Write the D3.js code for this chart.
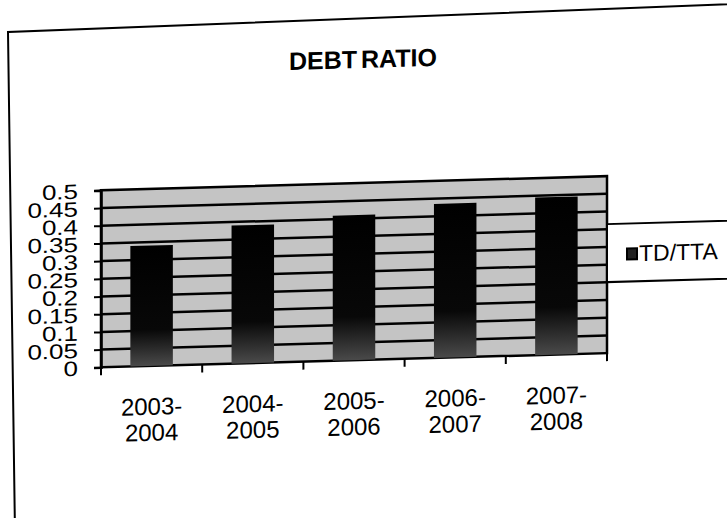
<!DOCTYPE html>
<html>
<head>
<meta charset="utf-8">
<title>Debt Ratio</title>
<script src="https://cdn.jsdelivr.net/npm/d3@7"></script>
<style>
	body { margin: 0; background: #fff; }
	text { font-family: "Liberation Sans", Arial, sans-serif; fill: #000; }
</style>
</head>
<body>
<div id="chart"></div>
<script>
	// data
	var categories = ["2003-2004", "2004-2005", "2005-2006", "2006-2007", "2007-2008"];
	var values = [0.34, 0.39, 0.41, 0.435, 0.445];
	var seriesName = "TD/TTA";
	var yTicks = [0, 0.05, 0.1, 0.15, 0.2, 0.25, 0.3, 0.35, 0.4, 0.45, 0.5];
	var chartTitle = "DEBT RATIO";

	var width = 727, height = 518;
	var plot = { left: 101, right: 607, top: 183, bottom: 360 };

	var svg = d3.select("#chart")
		.append("svg")
		.attr("width", width)
		.attr("height", height);

	svg.append("rect").attr("width", width).attr("height", height).attr("fill", "#fff");

	// bar fill: black fading to dark grey at the foot
	var grad = svg.append("defs").append("linearGradient")
		.attr("id", "barFill")
		.attr("x1", 0).attr("y1", 0).attr("x2", 0).attr("y2", 1);
	grad.append("stop").attr("offset", "0%").attr("stop-color", "#000");
	grad.append("stop").attr("offset", "70%").attr("stop-color", "#080808");
	grad.append("stop").attr("offset", "100%").attr("stop-color", "#4a4a4a");

	// outer chart border (the scan is tilted a little more here)
	svg.append("g")
		.attr("transform", "translate(8,32) skewX(0.8) skewY(-2.2) translate(-8,-32)")
		.append("rect")
		.attr("x", 8).attr("y", 32)
		.attr("width", 900).attr("height", 600)
		.attr("fill", "none")
		.attr("stroke", "#000")
		.attr("stroke-width", 2);

	// whole chart sits slightly skewed like the scanned page
	var g = svg.append("g")
		.attr("transform", "translate(0,10.1) skewY(-1.6)");

	var x = d3.scaleBand()
		.domain(categories)
		.range([plot.left, plot.right])
		.paddingInner(0.58)
		.paddingOuter(0.29);

	var y = d3.scaleLinear()
		.domain([0, 0.5])
		.range([plot.bottom, plot.top]);

	// plot area
	g.append("rect")
		.attr("x", plot.left).attr("y", plot.top)
		.attr("width", plot.right - plot.left)
		.attr("height", plot.bottom - plot.top)
		.attr("fill", "#c4c4c4");

	g.append("g")
		.selectAll("line")
		.data(yTicks.filter(function(d) { return d > 0 && d < 0.5; }))
		.enter()
			.append("line")
			.attr("x1", plot.left).attr("x2", plot.right)
			.attr("y1", function(d) { return y(d); })
			.attr("y2", function(d) { return y(d); })
			.attr("stroke", "#000")
			.attr("stroke-width", 2.5);

	g.append("rect")
		.attr("x", plot.left).attr("y", plot.top)
		.attr("width", plot.right - plot.left)
		.attr("height", plot.bottom - plot.top)
		.attr("fill", "none")
		.attr("stroke", "#000")
		.attr("stroke-width", 2.5);

	// bars
	g.append("g")
		.selectAll("rect")
		.data(values)
		.enter()
			.append("rect")
			.attr("x", function(d, i) { return x(categories[i]); })
			.attr("y", function(d) { return y(d); })
			.attr("width", x.bandwidth())
			.attr("height", function(d) { return y(0) - y(d); })
			.attr("fill", "url(#barFill)");

	// y axis - the scanned labels are squashed and overlap each other
	var yAxis = g.append("g")
		.attr("transform", "translate(" + plot.left + ",0)")
		.call(d3.axisLeft(y)
			.tickValues(yTicks)
			.tickSize(7)
			.tickPadding(16)
			.tickFormat(function(d) { return String(d); }));
	yAxis.select(".domain").attr("stroke-width", 2.5);
	yAxis.selectAll(".tick line").attr("stroke-width", 2);
	yAxis.selectAll("text")
		.attr("transform", "scale(1,0.8)")
		.attr("dy", "0.36em")
		.style("font-size", "26px")
		.style("font-family", "'Liberation Sans', Arial, sans-serif")
		.attr("fill", "#000");

	// x axis ticks sit between the categories
	var boundaries = d3.range(categories.length + 1);
	g.append("g")
		.selectAll("line")
		.data(boundaries)
		.enter()
			.append("line")
			.attr("x1", function(i) { return plot.left + i * x.step(); })
			.attr("x2", function(i) { return plot.left + i * x.step(); })
			.attr("y1", plot.bottom)
			.attr("y2", plot.bottom + 8)
			.attr("stroke", "#000")
			.attr("stroke-width", 2);

	var xLabels = g.append("g")
		.selectAll("text")
		.data(categories)
		.enter()
			.append("text")
			.attr("text-anchor", "middle")
			.style("font-size", "24px");
	xLabels.append("tspan")
		.attr("x", function(d) { return x(d) + x.bandwidth() / 2; })
		.attr("y", 409)
		.text(function(d) { return d.split("-")[0] + "-"; });
	xLabels.append("tspan")
		.attr("x", function(d) { return x(d) + x.bandwidth() / 2; })
		.attr("y", 435)
		.text(function(d) { return d.split("-")[1]; });

	// title
	g.append("text")
		.attr("x", 363)
		.attr("y", 68)
		.attr("text-anchor", "middle")
		.style("font-size", "25px")
		.style("font-weight", "bold")
		.style("word-spacing", "-3px")
		.text(chartTitle);

	// legend
	var legend = g.append("g");
	legend.append("rect")
		.attr("x", 607).attr("y", 231)
		.attr("width", 200).attr("height", 58)
		.attr("fill", "#fff")
		.attr("stroke", "#000")
		.attr("stroke-width", 2);
	legend.append("rect")
		.attr("x", 627).attr("y", 256)
		.attr("width", 10).attr("height", 11)
		.attr("fill", "#222")
		.attr("stroke", "#000")
		.attr("stroke-width", 2);
	legend.append("text")
		.attr("x", 639)
		.attr("y", 269)
		.style("font-size", "23px")
		.text(seriesName);
</script>
</body>
</html>
